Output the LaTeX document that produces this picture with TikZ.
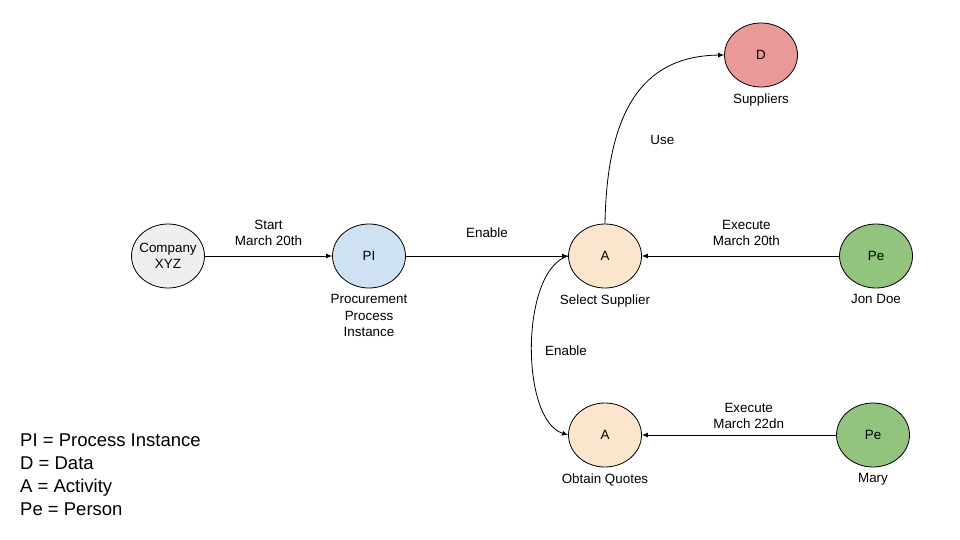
\documentclass[tikz,border=0pt]{standalone}
\usepackage{fontspec}
\setmainfont{Liberation Sans}
\usetikzlibrary{shapes.geometric,arrows.meta}
\definecolor{orggray}{HTML}{EFEFEF}
\definecolor{instblue}{HTML}{CFE2F3}
\definecolor{actorange}{HTML}{FCE5CD}
\definecolor{datared}{HTML}{EA9999}
\definecolor{persgreen}{HTML}{93C47D}
\begin{document}
\begin{tikzpicture}[x=1pt, y=-1pt,
        entity/.style={ellipse, draw, line width=0.8pt, inner sep=0pt, minimum width=73pt, minimum height=64pt, align=center, font=\fontsize{13.4}{16}\selectfont},
        caplabel/.style={font=\fontsize{13.4}{16.5}\selectfont, align=center, inner sep=0pt},
        edgelabel/.style={font=\fontsize{13.4}{16}\selectfont, align=center},
        keytext/.style={font=\fontsize{18.5}{22.7}\selectfont, align=left, inner sep=0pt},
        arrow/.style={-{Latex[length=6pt,width=5pt]}, line width=0.8pt},
        label distance=6pt
      ]
      \useasboundingbox (0,0) rectangle (960,540);
      \node[entity, fill=orggray, inner sep=-8pt] (company) at (168,256) {Company\\XYZ};
      \node[entity, fill=instblue, label={[caplabel]below:{Procurement\\Process\\Instance}}] (pi) at (369,256) {PI};
      \node[entity, fill=actorange, label={[caplabel]below:Select Supplier}] (select) at (605,256) {A};
      \node[entity, fill=datared, label={[caplabel]below:Suppliers}] (suppliers) at (761,55) {D};
      \node[entity, fill=persgreen, label={[caplabel]below:Jon Doe}] (jon) at (876,256) {Pe};
      \node[entity, fill=actorange, label={[caplabel]below:Obtain Quotes}] (quotes) at (605,435) {A};
      \node[entity, fill=persgreen, label={[caplabel]below:Mary}] (mary) at (873,435) {Pe};

      \draw[arrow] (company) -- node[edgelabel, midway, yshift=23pt] {Start\\March 20th} (pi);
      \draw[arrow] (pi) -- node[edgelabel, midway, yshift=23pt] {Enable} (select);
      \draw[arrow] (jon) -- node[edgelabel, pos=0.47, yshift=23pt] {Execute\\March 20th} (select);
      \draw[arrow] (mary) -- node[edgelabel, pos=0.45, yshift=19pt] {Execute\\March 22dn} (quotes);
      \draw[arrow] (select.north) .. controls (607,100) and (650,56) .. (suppliers.west)
        node[edgelabel, pos=0.27, xshift=47pt] {Use};
      \draw[arrow] (select.west) .. controls (520,270) and (520,420) .. (quotes.west)
        node[edgelabel, pos=0.5, xshift=34pt, yshift=-6pt] {Enable};

      \node[keytext, anchor=north west] (key) at (20,434) {PI = Process Instance\\D = Data\\A = Activity\\Pe = Person};
    \end{tikzpicture}
\end{document}
